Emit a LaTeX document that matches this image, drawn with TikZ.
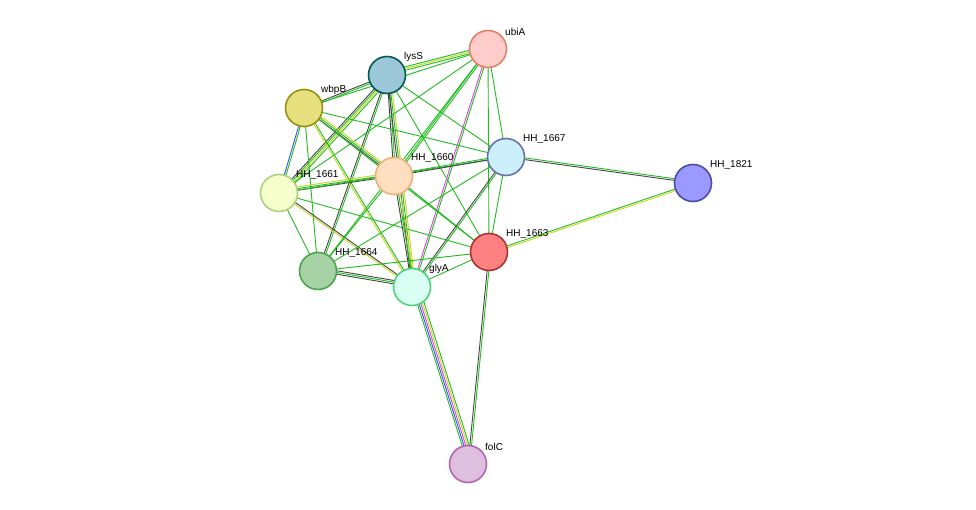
\documentclass[tikz,border=0pt]{standalone}
\usepackage{fontspec}
\setmainfont{Liberation Sans}
\usetikzlibrary{calc,backgrounds}
\definecolor{eg}{HTML}{22BB22}
\definecolor{ek}{HTML}{444444}
\definecolor{ey}{HTML}{C8D820}
\definecolor{em}{HTML}{DD44DD}
\definecolor{eb}{HTML}{3355EE}
\newcommand\medge[3]{%
  \foreach \c [count=\i] in {#3}{%
    \pgfmathsetmacro\o{(\i-1)*1.7}%
    \draw[line width=0.9pt,\c] ($(#1)!\o pt!90:(#2)$) -- ($(#2)!\o pt!-90:(#1)$);}}
\newcommand\pn[6]{\node[circle,minimum size=37pt,inner sep=0,line width=1.6pt,draw=#5,fill=#4] (#1) at (#2,#3) {};
  \node[anchor=south west,inner sep=0,font=\fontsize{10pt}{11pt}\selectfont] at (#2+17,#3-13) {#6};}
\begin{document}
\begin{tikzpicture}[x=1pt,y=-1pt]
\useasboundingbox (0,0) rectangle (976,510);
\pn{lysS}{387}{75}{cyan!30!teal!45}{teal!70!black}{lysS}
\pn{ubiA}{488}{49}{red!20}{red!40!brown!70}{ubiA}
\pn{wbpB}{304}{108}{yellow!50!olive!45}{olive!90}{wbpB}
\pn{h67}{506}{157}{cyan!20}{cyan!30!blue!50!gray}{HH\_1667}
\pn{h60}{394}{176}{orange!25}{orange!50!brown!60}{HH\_1660}
\pn{h61}{279}{193}{green!15!yellow!20}{green!30!olive!50}{HH\_1661}
\pn{h21}{693}{183}{blue!40!white}{blue!50!black!70}{HH\_1821}
\pn{h63}{489}{252}{red!50}{red!60!black!80}{HH\_1663}
\pn{h64}{318}{271}{green!50!black!35}{green!50!black!70}{HH\_1664}
\pn{gly}{412}{287}{green!25!cyan!15}{green!50!teal!70}{glyA}
\pn{folC}{468}{464}{violet!25}{violet!60}{folC}
\begin{pgfonlayer}{background}
\fill[white] (0,0) rectangle (976,510);
\medge{lysS}{ubiA}{eg,ey,eg}
\medge{lysS}{wbpB}{ek,eg}
\medge{lysS}{h61}{ek,eg,ey,eg}
\medge{lysS}{h60}{ek,eg}
\medge{lysS}{h64}{ek,eg}
\medge{lysS}{gly}{ek,eg,ey}
\medge{lysS}{h67}{eg}
\medge{lysS}{h63}{eg}
\medge{ubiA}{wbpB}{eg}
\medge{ubiA}{h61}{eg}
\medge{ubiA}{h60}{eg,eg}
\medge{ubiA}{h67}{eg}
\medge{ubiA}{h63}{eg}
\medge{ubiA}{gly}{em,eg}
\medge{ubiA}{h64}{eg}
\medge{wbpB}{h61}{eb,eg}
\medge{wbpB}{h60}{ek,eg,ey}
\medge{wbpB}{h64}{eg}
\medge{wbpB}{gly}{ey,eg}
\medge{wbpB}{h67}{eg}
\medge{wbpB}{h63}{eg}
\medge{h61}{h60}{ek,eg,ey}
\medge{h61}{h67}{eg}
\medge{h61}{h64}{eg}
\medge{h61}{gly}{ey,ek}
\medge{h61}{h63}{eg}
\medge{h60}{h67}{ek,eg}
\medge{h60}{h64}{eg}
\medge{h60}{gly}{ek,eg,ey}
\medge{h60}{h63}{eg}
\medge{h67}{h21}{ek,eg}
\medge{h67}{h63}{eg}
\medge{h67}{gly}{ek,eg}
\medge{h67}{h64}{eg}
\medge{h21}{h63}{eg,ey}
\medge{h63}{gly}{eg}
\medge{h63}{h64}{eg}
\medge{h63}{folC}{ek,eg}
\medge{h64}{gly}{ek,eg,ek}
\medge{gly}{folC}{eg,eb,em,ey,eg}
\end{pgfonlayer}
\end{tikzpicture}
\end{document}
